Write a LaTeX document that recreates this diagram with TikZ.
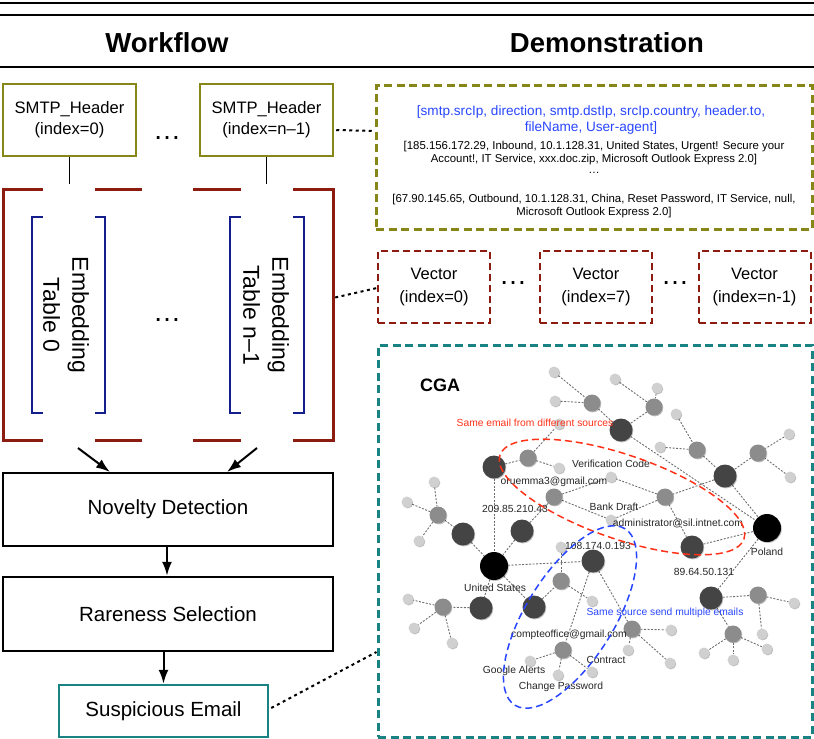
\documentclass[tikz,border=0pt]{standalone}
\usepackage{fontspec}
\setmainfont{Liberation Sans}
\usetikzlibrary{arrows.meta,backgrounds,shadows,calc}
\definecolor{olv}{RGB}{135,135,25}
\definecolor{dred}{RGB}{140,28,16}
\definecolor{nvy}{RGB}{20,30,140}
\definecolor{tel}{RGB}{25,130,130}
\definecolor{redt}{RGB}{255,50,25}
\definecolor{bluet}{RGB}{40,70,255}
\definecolor{ltg}{RGB}{208,208,208}
\definecolor{mdg}{RGB}{140,140,140}
\definecolor{dkg}{RGB}{68,68,68}
\definecolor{edg}{RGB}{110,110,110}
\begin{document}
\begin{tikzpicture}[x=1pt,y=-1pt,
  every node/.style={font=\fontsize{16.5}{21}\selectfont},
  hdrbox/.style={draw=olv, line width=2.5pt, minimum width=133pt, minimum height=72pt, inner sep=0pt, align=center, font=\fontsize{16.6}{21}\selectfont},
  vecbox/.style={draw=dred, line width=2pt, dash pattern=on 7pt off 4pt, minimum width=112pt, minimum height=72pt, inner sep=0pt, align=center, font=\fontsize{16.5}{23}\selectfont},
  stagebox/.style={draw=black, line width=2.5pt, minimum width=330pt, minimum height=73pt, inner sep=0pt, font=\fontsize{20.5}{24}\selectfont},
  dotsl/.style={font=\fontsize{28}{30}\selectfont, inner sep=0pt},
  arr/.style={line width=2pt, -{Latex[length=14pt,width=10pt]}},
  dotc/.style={line width=2pt, dash pattern=on 3pt off 3.5pt},
  embtxt/.style={rotate=-90, align=center, font=\fontsize{23}{29}\selectfont, inner sep=0pt},
  ge/.style={draw=edg, line width=0.9pt, dash pattern=on 2pt off 1.5pt},
  gshadow/.style={drop shadow={shadow xshift=0.8pt, shadow yshift=-0.9pt, opacity=0.25, fill=black}},
  lt/.style={circle, inner sep=0pt, minimum size=11pt, fill=ltg, gshadow},
  md/.style={circle, inner sep=0pt, minimum size=17pt, fill=mdg, gshadow},
  dk/.style={circle, inner sep=0pt, minimum size=23pt, fill=dkg, gshadow},
  bk/.style={circle, inner sep=0pt, minimum size=28pt, fill=black, gshadow},
  glab/.style={font=\fontsize{10.3}{12}\selectfont, text=black!85, inner sep=0pt},
]
\useasboundingbox (0,0) rectangle (814,739);
% top rules
\draw[line width=2.5pt] (0,3) -- (814,3);
\draw[line width=2pt] (0,15) -- (814,15);
\draw[line width=2.5pt] (0,67) -- (814,67);
\node[font=\fontsize{27.5}{30}\selectfont\bfseries] (wf) at (167,43) {Workflow};
\node[font=\fontsize{27.5}{30}\selectfont\bfseries] (dm) at (607,43) {Demonstration};

% workflow: headers
\node[hdrbox] (h0) at (69.5,120) {SMTP\_Header\\(index=0)};
\node[hdrbox] (h1) at (266.5,120) {SMTP\_Header\\(index=n\textendash1)};
\node[dotsl] (hd) at (167,138) {…};

% embedding bracket box
\node[minimum width=330pt, minimum height=251pt, inner sep=0pt] (emb) at (168,314.5) {};
\begin{scope}[dred, line width=3pt]
  \draw (43,189) -| (3,440) -- (43,440);
  \draw (95,189) -- (142,189);
  \draw (193,189) -- (241,189);
  \draw (95,440) -- (142,440);
  \draw (193,440) -- (241,440);
  \draw (293,189) -| (333,440) -- (293,440);
\end{scope}
\begin{scope}[nvy, line width=2pt]
  \draw (43,217) -| (32,413) -- (43,413);
  \draw (95,217) -| (105,413) -- (95,413);
  \draw (241,217) -| (230,413) -- (241,413);
  \draw (293,217) -| (304,413) -- (293,413);
\end{scope}
\node[embtxt] (e0) at (66,315) {Embedding\\Table 0};
\node[embtxt] (e1) at (266,315) {Embedding\\Table n\textendash1};
\node[dotsl] (ed) at (167,320) {…};

\draw[line width=1pt] (h0.south) -- ($(h0.south |- emb.north)+(0,-5)$);
\draw[line width=1pt] (h1.south) -- ($(h1.south |- emb.north)+(0,-5)$);

% stages
\node[stagebox] (nov) at (168,509.5) {Novelty Detection};
\node[stagebox, minimum height=74pt] (rar) at (168,614) {Rareness Selection};
\node[stagebox, draw=tel, minimum width=209pt, minimum height=52pt] (sus) at (163.5,711) {Suspicious Email};

\coordinate (a0) at (78,448);
\coordinate (a1) at (257,448);
\coordinate (n0) at (110,472);
\coordinate (n1) at (227,472);
\draw[arr] (a0) -- (n0);
\draw[arr] (a1) -- (n1);
\draw[arr] (nov.south -| 167,0) -- (rar.north -| 167,0);
\draw[arr] (rar.south -| sus.north) -- (sus.north);

% demonstration
\node[draw=olv, line width=3pt, dash pattern=on 8pt off 4.5pt, minimum width=436pt, minimum height=144pt, inner sep=0pt] (demo) at (594,157) {};
\node[text=bluet, align=center, font=\fontsize{13.6}{16}\selectfont] (bl) at (591,120) {[smtp.srcIp, direction, smtp.dstIp, srcIp.country, header.to,\\fileName, User-agent]};
\node[align=center, font=\fontsize{11.4}{13}\selectfont] (r1t) at (594,153.5) {[185.156.172.29, Inbound, 10.1.128.31, United States, Urgent! Secure your\\Account!, IT Service, xxx.doc.zip, Microsoft Outlook Express 2.0]};
\node[font=\fontsize{11.4}{13}\selectfont] (rdt) at (594,173) {…};
\node[align=center, font=\fontsize{11.4}{13}\selectfont] (r2t) at (594,206.5) {[67.90.145.65, Outbound, 10.1.128.31, China, Reset Password, IT Service, null,\\Microsoft Outlook Express 2.0]};

\node[vecbox] (v0) at (434,287) {Vector\\(index=0)};
\node[vecbox] (v7) at (596,287) {Vector\\(index=7)};
\node[vecbox] (vn) at (754.5,287) {Vector\\(index=n-1)};
\node[dotsl] (vd1) at (513,283) {…};
\node[dotsl] (vd2) at (675,283) {…};

\node[draw=tel, line width=3pt, dash pattern=on 8pt off 4.5pt, minimum width=434pt, minimum height=392pt, inner sep=0pt] (cga) at (595,541) {};

% dotted connectors
\draw[dotc] ($(h1.east)+(2,10)$) -- ($(demo.west)+(0,-26)$);
\draw[dotc] ($(emb.east)+(2,-17)$) -- ($(v0.west)+(0,1)$);
\draw[dotc] ($(sus.east)+(2,-3)$) -- ($(cga.west)+(0,111)$);

% CGA graph
\node[font=\fontsize{18}{20}\selectfont\bfseries, inner sep=0pt] (cgat) at (440,385) {CGA};
\node[lt] (t1) at (554,372) {};
\node[lt] (t2) at (555,401) {};
\node[md] (t3) at (592,403) {};
\node[lt] (t4) at (615,379) {};
\node[lt] (t5) at (657,388) {};
\node[md] (t6) at (654,407) {};
\node[dk] (t7) at (621,430) {};
\node[lt] (t8) at (676,414) {};
\node[lt] (t9) at (660,447) {};
\node[md] (t10) at (697,450) {};
\node[lt] (t11) at (789,434) {};
\node[md] (t12) at (758,453) {};
\node[lt] (t13) at (790,477) {};
\node[dk] (t14) at (725,476) {};
\node[bk] (pol) at (767,528) {};
\node[dk] (ou) at (494,467) {};
\node[md] (o1) at (528,458) {};
\node[lt] (o2) at (559,468) {};
\node[lt] (o3) at (559,424) {};
\node[lt] (c1) at (611,477) {};
\node[md] (c2) at (554,497) {};
\node[md] (c3) at (665,497) {};
\node[lt] (c4) at (611,520) {};
\node[dk] (ip1) at (522,531) {};
\node[lt] (l1) at (434,482) {};
\node[lt] (l2) at (407,502) {};
\node[md] (l3) at (438,515) {};
\node[lt] (l4) at (419,541) {};
\node[dk] (l5) at (463,534) {};
\node[bk] (us) at (494,566) {};
\node[dk] (ip2) at (593,561) {};
\node[dk] (ip3) at (692,547) {};
\node[lt] (m1) at (561,547) {};
\node[md] (m2) at (561,581) {};
\node[lt] (m3) at (592,601) {};
\node[dk] (m4) at (534,607) {};
\node[lt] (b1) at (408,599) {};
\node[md] (b2) at (443,607) {};
\node[dk] (b3) at (481,608) {};
\node[lt] (b4) at (414,628) {};
\node[lt] (b5) at (452,643) {};
\node[dk] (r1) at (711,598) {};
\node[md] (r2) at (758,595) {};
\node[lt] (r3) at (794,603) {};
\node[lt] (r4) at (762,634) {};
\node[md] (r5) at (733,634) {};
\node[lt] (r6) at (704,653) {};
\node[lt] (r7) at (733,660) {};
\node[lt] (r8) at (767,649) {};
\node[md] (s1) at (632,629) {};
\node[lt] (s2) at (671,630) {};
\node[lt] (s3) at (628,650) {};
\node[lt] (s4) at (670,663) {};
\node[md] (co) at (563,650) {};
\node[lt] (g1) at (530,661) {};
\node[lt] (g2) at (558,675) {};
\node[lt] (g3) at (592,672) {};
\begin{pgfonlayer}{background}
\foreach \a/\b in {t1/t3, t2/t3, t3/t7, t4/t6, t5/t6, t6/t7, t7/pol, t8/t10, t9/t10, t10/t14, t11/t12, t13/t12, t12/t14, t14/pol, t14/c3, c3/c1, c3/c4, c3/ip3, ip3/pol, pol/r1, r1/r2, r2/r3, r2/r4, r1/r5, r5/r6, r5/r7, r5/r8, ou/o1, o1/o2, o1/o3, ou/us, c2/c1, c2/c4, c2/ip1, ip1/us, l1/l3, l2/l3, l3/l4, l3/l5, l5/us, us/ip2, us/m4, us/b3, b3/b2, b2/b1, b2/b4, b2/b5, m4/m2, m2/m1, m2/m3, ip2/co, ip2/s1, s1/s2, s1/s3, s1/s4, co/g1, co/g2, co/g3}
  \draw[ge] (\a) -- (\b);
\end{pgfonlayer}

% graph labels
\node[glab] (lb1) at (611,464) {Verification Code};
\node[glab] (lb2) at (554,482) {oruemma3@gmail.com};
\node[glab] (lb3) at (515,509) {209.85.210.43};
\node[glab] (lb4) at (614,507) {Bank Draft};
\node[glab] (lb5) at (678,523) {administrator@sil.intnet.com};
\node[glab] (lb6) at (598,546) {108.174.0.193};
\node[glab] (lb7) at (767,552) {Poland};
\node[glab] (lb8) at (704,572) {89.64.50.131};
\node[glab] (lb9) at (495,588) {United States};
\node[glab] (lb10) at (569,635) {compteoffice@gmail.com};
\node[glab] (lb11) at (606,660) {Contract};
\node[glab] (lb12) at (514,671) {Google Alerts};
\node[glab] (lb13) at (561,687) {Change Password};
\node[glab, text=redt] (lbr) at (535,423) {Same email from different sources};
\node[glab, text=bluet] (lbb) at (665,613) {Same source send multiple emails};

% group ellipses
\draw[redt, line width=1.5pt, dash pattern=on 7pt off 4pt, rotate around={-19:(622,497)}] (622,497) ellipse [x radius=129pt, y radius=42pt];
\draw[bluet, line width=1.5pt, dash pattern=on 7pt off 4pt, rotate around={58:(570,617)}] (570,617) ellipse [x radius=104pt, y radius=44pt];
\end{tikzpicture}
\end{document}
